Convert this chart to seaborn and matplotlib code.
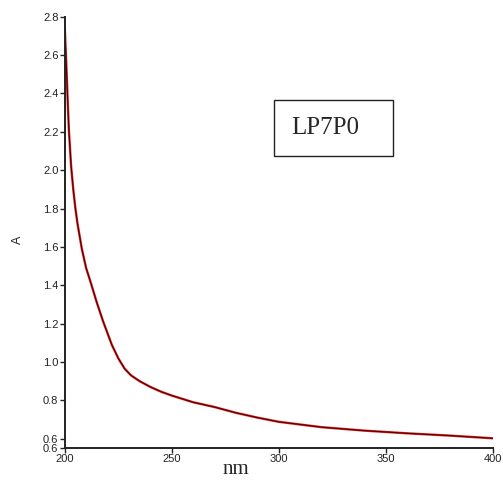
import numpy as np
import pandas as pd
import matplotlib
matplotlib.use("Agg")
import matplotlib.pyplot as plt
from matplotlib.patches import Rectangle
import seaborn as sns

# --- DATA ---
wavelength = [200, 200.5, 201, 201.5, 202, 203, 204, 205, 206, 208, 210, 212,
              215, 218, 222, 225, 228, 231, 235, 240, 245, 250, 260, 270, 280,
              290, 300, 320, 340, 360, 380, 400]
absorbance = [2.75, 2.62, 2.48, 2.33, 2.20, 2.02, 1.90, 1.80, 1.72, 1.59, 1.49,
              1.42, 1.31, 1.21, 1.09, 1.02, 0.965, 0.93, 0.90, 0.87, 0.845,
              0.825, 0.79, 0.765, 0.735, 0.71, 0.688, 0.66, 0.642, 0.628, 0.616,
              0.602]
x_ticks = [200, 250, 300, 350, 400]
y_ticks = [0.553, 0.6, 0.8, 1.0, 1.2, 1.4, 1.6, 1.8, 2.0, 2.2, 2.4, 2.6, 2.8]
sample_name = "LP7P0"

df = pd.DataFrame({"nm": wavelength, "A": absorbance})

# --- STYLE ---
sns.set_style("ticks")
plt.rcParams['font.family'] = ['Liberation Sans', 'DejaVu Sans']

W, H = 503, 484
fig = plt.figure(figsize=(W / 100, H / 100), dpi=100)
ax = fig.add_axes([64.7 / W, 1 - 447.7 / H, (492.7 - 64.7) / W, (447.7 - 16.7) / H])

sns.lineplot(data=df, x="nm", y="A", ax=ax, color="#e02020", linewidth=1.7)
sns.lineplot(data=df, x="nm", y="A", ax=ax, color="#400000", linewidth=0.7)

ax.set_xlim(200, 400)
ax.set_ylim(0.553, 2.8)
ax.set_xticks(x_ticks)
ax.set_yticks(y_ticks)
ax.set_yticklabels([f"{v:.1f}" for v in y_ticks])
ax.tick_params(axis="both", labelsize=8, length=3.5, width=1, pad=1, colors="#222222")
for s in ["top", "right"]:
    ax.spines[s].set_visible(False)
for s in ["left", "bottom"]:
    ax.spines[s].set_color("#222222")
    ax.spines[s].set_linewidth(1.4)

ax.set_xlabel("")
ax.set_ylabel("")
fig.text(236 / W, 1 - 470 / H, "nm", family="Liberation Serif", fontsize=15,
         ha="center", va="center")
fig.text(18 / W, 1 - 240 / H, "A", fontsize=9, rotation=90, ha="center", va="center")

# label box
fig.patches.append(Rectangle((274 / W, 1 - 156 / H), (393 - 274) / W, (156 - 100) / H,
                             transform=fig.transFigure, fill=False,
                             edgecolor="#222222", linewidth=1))
fig.text(325 / W, 1 - 128 / H, sample_name, family="Liberation Serif", fontsize=18,
         ha="center", va="center")

fig.savefig("out.png", dpi=100)
